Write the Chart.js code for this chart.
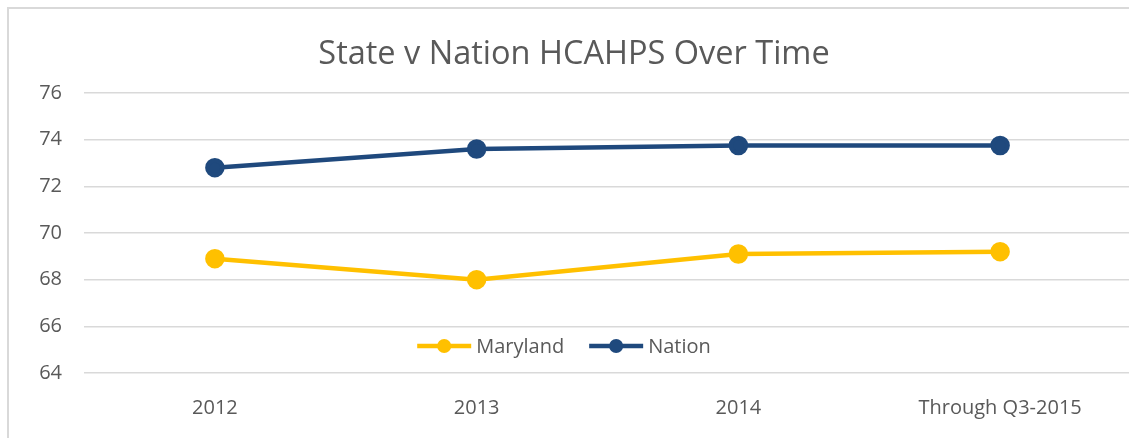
<!DOCTYPE html>
<html>
<head>
<meta charset="utf-8">
<script src="https://cdn.jsdelivr.net/npm/chart.js@4.4.0/dist/chart.umd.min.js"></script>
<style>
  html, body { margin: 0; padding: 0; background: #fff; overflow: hidden; }
  #box {
    position: absolute; left: 7px; top: 7px;
    width: 1134px; height: 440px;
    border-left: 2px solid #d9d9d9; border-top: 2px solid #d9d9d9;
  }
</style>
</head>
<body>
<div id="box"><canvas id="linechart" width="1134" height="440"></canvas></div>
<script>
const categories = ['2012', '2013', '2014', 'Through Q3-2015'];
const maryland = [68.9, 68.0, 69.1, 69.2];
const nation = [72.8, 73.6, 73.75, 73.75];
const yTicks = [64, 66, 68, 70, 72, 74, 76];

const FONT = "'Open Sans', sans-serif";
const TEXT = '#595959';

// legend drawn inside the plot area, like the Excel original
const innerLegend = {
  id: 'innerLegend',
  afterDraw(chart) {
    const c = chart.ctx;
    const area = chart.chartArea;
    const y = area.bottom - 27;
    c.save();
    c.font = '20px ' + FONT;
    c.textBaseline = 'middle';
    const items = chart.data.datasets.map(ds => ({
      label: ds.label, color: ds.borderColor, w: c.measureText(ds.label).width
    }));
    const lineW = 54, gap = 5, between = 25;
    let total = 0;
    items.forEach((it, i) => { total += lineW + gap + it.w + (i ? between : 0); });
    let x = chart.width / 2 - 12 - total / 2;
    items.forEach(it => {
      c.strokeStyle = it.color;
      c.lineWidth = 4.5;
      c.beginPath(); c.moveTo(x, y); c.lineTo(x + lineW, y); c.stroke();
      c.fillStyle = it.color;
      c.beginPath(); c.arc(x + lineW / 2, y, 7, 0, Math.PI * 2); c.fill();
      c.fillStyle = TEXT;
      c.fillText(it.label, x + lineW + gap, y + 1);
      x += lineW + gap + it.w + between;
    });
    c.restore();
  }
};

new Chart(document.getElementById('linechart'), {
  type: 'line',
  data: {
    labels: categories,
    datasets: [{
      label: 'Maryland', data: maryland,
      borderColor: '#ffc000', backgroundColor: '#ffc000',
      borderWidth: 4.5, pointRadius: 7.5, pointHoverRadius: 7.5, tension: 0
    }, {
      label: 'Nation', data: nation,
      borderColor: '#1f497d', backgroundColor: '#1f497d',
      borderWidth: 4.5, pointRadius: 7.5, pointHoverRadius: 7.5, tension: 0
    }]
  },
  options: {
    responsive: false,
    animation: false,
    layout: { padding: { left: 3, right: 7, top: 0, bottom: 6 } },
    plugins: {
      legend: { display: false },
      tooltip: { enabled: false },
      title: {
        display: true,
        text: 'State v Nation HCAHPS Over Time',
        color: TEXT,
        font: { family: FONT, size: 32.5, weight: 'normal' },
        padding: { top: 26, bottom: 19 }
      }
    },
    scales: {
      x: {
        offset: true,
        afterFit: s => { s.paddingLeft = 0; s.paddingRight = 0; },
        grid: { display: false, drawTicks: false },
        border: { display: false },
        ticks: { color: TEXT, font: { family: FONT, size: 20 }, padding: 23, maxRotation: 0 }
      },
      y: {
        min: 64, max: 76,
        afterBuildTicks: axis => { axis.ticks = yTicks.map(v => ({ value: v })); },
        afterFit: s => { s.width = 72; },
        grid: { color: '#d9d9d9', lineWidth: 1.5, drawTicks: false },
        border: { display: false },
        ticks: { color: TEXT, font: { family: FONT, size: 20 }, padding: 22 }
      }
    }
  },
  plugins: [innerLegend]
});
</script>
</body>
</html>
